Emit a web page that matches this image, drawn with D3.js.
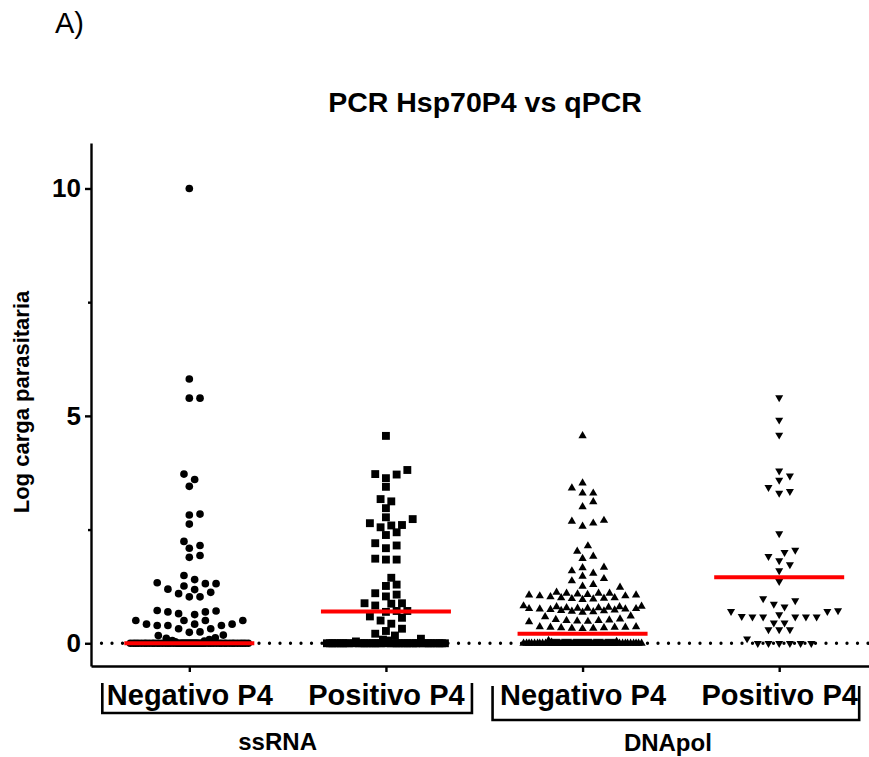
<!DOCTYPE html>
<html>
<head>
<meta charset="utf-8">
<script src="https://cdn.jsdelivr.net/npm/d3@7"></script>
<style>
  body { margin: 0; background: #fff; }
  text { font-family: "Liberation Sans", Arial, Helvetica, sans-serif; fill: #000; }
</style>
</head>
<body>
<div id="chart"></div>
<script>
// categorías (eje X) y agrupaciones
const groupKeys = ["ssRNA_neg", "ssRNA_pos", "DNApol_neg", "DNApol_pos"];
const groupLabels = ["Negativo P4", "Positivo P4", "Negativo P4", "Positivo P4"];
const familyNames = ["ssRNA", "DNApol"];
const familyGroups = [["ssRNA_neg", "ssRNA_pos"], ["DNApol_neg", "DNApol_pos"]];

// valores (log carga parasitaria)
const ssrnaNeg = [
  10.0, 5.81, 5.39, 5.39, 3.72, 3.60, 3.45, 2.84, 2.82, 2.62, 2.24, 2.15, 2.09, 1.93, 1.89,
  1.49, 1.40, 1.33, 1.31, 1.31, 1.26, 1.19, 1.18, 1.12, 1.09, 1.02, 1.02,
  0.72, 0.71, 0.69, 0.69, 0.65, 0.63,
  0.50, 0.50, 0.50, 0.50, 0.42, 0.42, 0.42, 0.39, 0.39, 0.39, 0.32, 0.32,
  0.25, 0.24, 0.18, 0.17, 0.12, 0.11, 0.08, 0.06, 0.05, 0.03,
  0, 0, 0, 0, 0, 0, 0, 0, 0, 0, 0, 0, 0, 0, 0, 0, 0, 0, 0, 0,
  0, 0, 0, 0, 0, 0, 0, 0, 0, 0, 0, 0, 0, 0, 0, 0, 0, 0, 0, 0,
  0, 0, 0, 0, 0, 0, 0, 0, 0, 0, 0, 0, 0, 0, 0, 0, 0, 0, 0, 0
];
const ssrnaPos = [
  4.56, 3.81, 3.72, 3.71, 3.63, 3.44, 3.17, 3.12, 2.97, 2.77, 2.73, 2.64, 2.60, 2.59, 2.55,
  2.44, 2.38, 2.20, 2.15, 2.09, 1.86, 1.84, 1.84, 1.44, 1.29, 1.26, 1.10, 1.07, 1.03,
  0.88, 0.88, 0.87, 0.83, 0.71, 0.71, 0.69, 0.59, 0.56, 0.50, 0.43, 0.32, 0.27, 0.21, 0.17,
  0.10, 0.08, 0.06, 0.04,
  0, 0, 0, 0, 0, 0, 0, 0, 0, 0, 0, 0, 0, 0, 0, 0, 0, 0, 0, 0,
  0, 0, 0, 0, 0, 0, 0, 0, 0, 0, 0, 0, 0, 0, 0, 0, 0, 0, 0, 0
];
const dnapolNeg = [
  4.56, 3.52, 3.41, 3.30, 3.30, 3.11, 3.00, 2.70, 2.68, 2.64, 2.57, 2.14, 2.02, 1.91, 1.86,
  1.67, 1.66, 1.59, 1.54, 1.47, 1.42, 1.37, 1.29, 1.25, 1.23, 1.12, 1.10, 1.10, 1.10,
  1.08, 1.07, 1.06, 1.06, 1.04, 1.04, 1.02, 1.00, 1.00, 0.99, 0.98, 0.97, 0.96,
  0.82, 0.81, 0.80, 0.80, 0.79, 0.78, 0.78, 0.77, 0.77, 0.76, 0.76, 0.75, 0.75, 0.74,
  0.73, 0.72, 0.71, 0.70, 0.69, 0.68,
  0.60, 0.58, 0.53, 0.52, 0.51, 0.50, 0.50, 0.49, 0.48, 0.47,
  0.36, 0.36, 0.35, 0.35, 0.35, 0.34, 0.34, 0.33, 0.33, 0.32,
  0.06, 0.04, 0.02,
  0, 0, 0, 0, 0, 0, 0, 0, 0, 0, 0, 0, 0, 0, 0, 0, 0, 0, 0, 0,
  0, 0, 0, 0, 0, 0, 0, 0, 0, 0, 0, 0, 0, 0, 0, 0, 0, 0, 0, 0,
  0, 0, 0, 0, 0, 0, 0, 0, 0, 0, 0, 0, 0, 0, 0, 0, 0, 0, 0, 0,
  0, 0, 0, 0, 0, 0, 0, 0, 0, 0, 0, 0, 0, 0, 0, 0, 0, 0, 0, 0
];
const dnapolPos = [
  5.40, 4.91, 4.58, 3.79, 3.68, 3.59, 3.43, 3.34, 3.30, 2.41, 2.05, 2.00, 1.91, 1.82, 1.73,
  1.60, 1.36, 0.98, 0.94, 0.86, 0.80, 0.72, 0.70, 0.70, 0.63, 0.59, 0.58, 0.58, 0.58, 0.58,
  0.58, 0.45, 0.45, 0.30, 0.30, 0.30, 0.10,
  0, 0, 0, 0, 0, 0
];
const seriesValues = [ssrnaNeg, ssrnaPos, dnapolNeg, dnapolPos];
// línea roja central
const centerLines = [0, 0.70, 0.21, 1.45];
const yTicks = [0, 5, 10];
const yMinorTicks = [2.5, 7.5];

const width = 869;
const height = 757;
const symbols = [
  d3.symbol(d3.symbolCircle, 46),
  d3.symbol(d3.symbolSquare, 62),
  d3.symbol(d3.symbolTriangle, 30),
  d3.symbol(d3.symbolTriangle, 28)
];

const svg = d3.select("#chart")
  .append("svg")
  .attr("width", width)
  .attr("height", height);

const y = d3.scaleLinear().domain([-0.5, 11]).range([666, 143]);
const x = d3.scalePoint().domain(groupKeys).range([91, 877.5]).padding(0.5);

// título y letra del panel
svg.append("text")
  .attr("x", 55).attr("y", 33)
  .style("font-size", "29px")
  .text("A)");

svg.append("text")
  .attr("x", 485).attr("y", 112)
  .attr("text-anchor", "middle")
  .style("font-size", "28.5px")
  .style("font-weight", "bold")
  .text("PCR Hsp70P4 vs qPCR");

svg.append("text")
  .attr("transform", "translate(29,402) rotate(-90)")
  .attr("text-anchor", "middle")
  .style("font-size", "22px")
  .style("font-weight", "bold")
  .text("Log carga parasitaria");

// línea punteada en cero
svg.append("line")
  .attr("x1", 101.5).attr("x2", width)
  .attr("y1", y(0)).attr("y2", y(0))
  .attr("stroke", "#000")
  .attr("stroke-width", 3.3)
  .attr("stroke-linecap", "round")
  .attr("stroke-dasharray", "0 10.5");

// ejes
const yAxis = svg.append("g")
  .attr("transform", "translate(91,0)")
  .call(d3.axisLeft(y).tickValues(yTicks).tickSize(6).tickSizeOuter(0).tickFormat(d3.format("d")));
yAxis.selectAll("text")
  .attr("x", -10)
  .style("font-size", "26px")
  .style("font-weight", "bold")
  .style("font-family", "Liberation Sans, Arial, sans-serif");

svg.append("g")
  .attr("transform", "translate(91,0)")
  .call(d3.axisLeft(y).tickValues(yMinorTicks).tickSize(3).tickFormat(""))
  .select(".domain").remove();

const xAxis = svg.append("g")
  .attr("transform", `translate(0,${y(-0.5)})`)
  .call(d3.axisBottom(x).tickSize(6).tickSizeOuter(0).tickFormat((d, i) => groupLabels[i]));
xAxis.selectAll("text")
  .attr("y", 39).attr("dy", 0)
  .style("font-size", "29px")
  .style("font-weight", "bold")
  .style("font-family", "Liberation Sans, Arial, sans-serif");

svg.selectAll(".domain, .tick line")
  .attr("stroke", "#000")
  .attr("stroke-width", 2.4);

// corchetes de familia
const bracketLayout = [
  { l: -87, r: 86, top: 683, bot: 713, ty: 750, dx: -10 },
  { l: -90, r: 80, top: 686, bot: 720, ty: 751, dx: -13 }
];
familyNames.forEach((name, i) => {
  const b = bracketLayout[i];
  const x0 = x(familyGroups[i][0]) + b.l;
  const x1 = x(familyGroups[i][1]) + b.r;
  svg.append("path")
    .attr("d", `M${x0},${b.top}V${b.bot}H${x1}V${b.top}`)
    .attr("fill", "none")
    .attr("stroke", "#000")
    .attr("stroke-width", 2.6);
  svg.append("text")
    .attr("x", (x(familyGroups[i][0]) + x(familyGroups[i][1])) / 2 + b.dx)
    .attr("y", b.ty)
    .attr("text-anchor", "middle")
    .style("font-size", "24px")
    .style("font-weight", "bold")
    .text(name);
});

// distribución tipo "beeswarm" de los puntos
function swarm(values, cx, maxHalf) {
  const step = 5.35, minDist = 8.5;
  const pts = values.map(v => ({ v, y: y(v) })).sort((a, b) => a.v - b.v);
  const slots = [0];
  for (let k = 1; k * step <= maxHalf; k++) slots.push(k * step, -k * step);
  const fine = [0];
  for (let k = 1; k <= maxHalf; k++) fine.push(k, -k);
  const placed = [];
  const minGap = (p, s) => {
    let dmin = Infinity;
    for (const q of placed) {
      const dy = q.y - p.y;
      if (Math.abs(dy) >= minDist) continue;
      const d = Math.hypot(q.dx - s, dy);
      if (d < dmin) dmin = d;
    }
    return dmin;
  };
  pts.forEach(p => {
    let choice = slots.find(s => minGap(p, s) >= minDist);
    if (choice === undefined) {
      // sin hueco libre: ocupar el espacio menos solapado
      let best = -1;
      fine.forEach(s => {
        const g = minGap(p, s);
        if (g > best + 0.01) { best = g; choice = s; }
      });
    }
    p.dx = choice;
    placed.push(p);
  });
  return pts.map(p => ({ v: p.v, x: cx + p.dx, y: p.y }));
}

groupKeys.forEach((key, i) => {
  const pts = swarm(seriesValues[i], x(key), 59);
  svg.append("g")
    .selectAll("path")
    .data(pts)
    .enter()
    .append("path")
    .attr("d", symbols[i])
    .attr("transform", d => `translate(${d.x},${d.y})${i === 3 ? " rotate(180)" : ""}`)
    .attr("fill", "#000");
});

// línea central roja
svg.append("g")
  .selectAll("line")
  .data(centerLines)
  .enter()
  .append("line")
  .attr("x1", (d, i) => x(groupKeys[i]) - 65)
  .attr("x2", (d, i) => x(groupKeys[i]) + 65)
  .attr("y1", d => y(d))
  .attr("y2", d => y(d))
  .attr("stroke", "#ff0000")
  .attr("stroke-width", 4);
</script>
</body>
</html>
